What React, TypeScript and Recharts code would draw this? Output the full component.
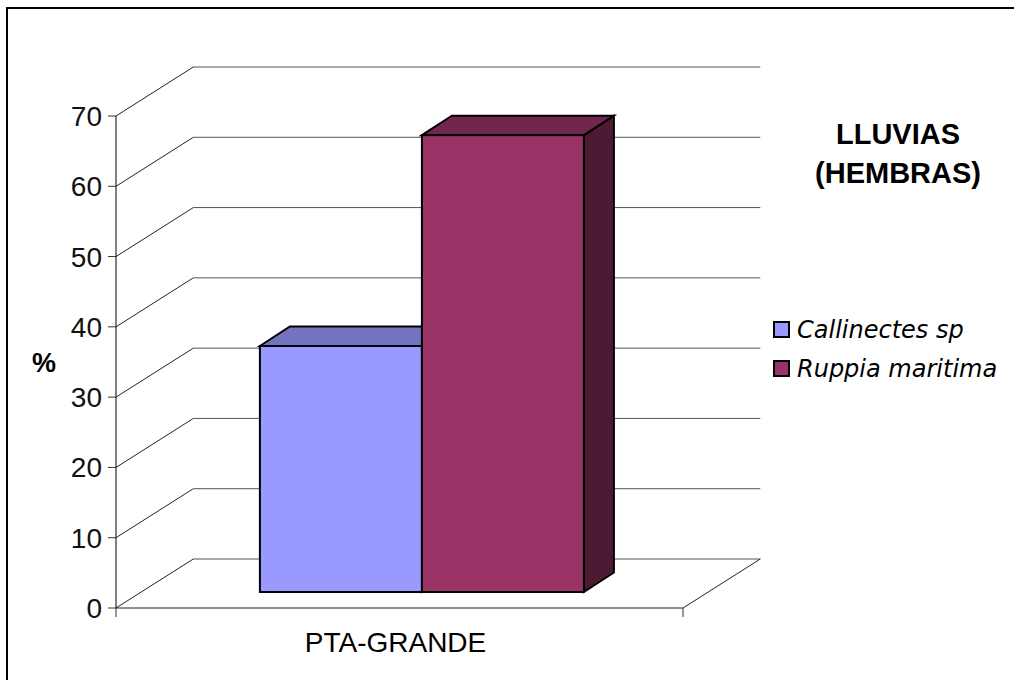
import React from 'react';
import { BarChart, Bar, XAxis, YAxis, CartesianGrid, Legend, ReferenceLine } from 'recharts';

// ---- data ----
const stations = ['PTA-GRANDE'];
const callinectesPct = [35];
const ruppiaPct = [65];
const yTicks = [0, 10, 20, 30, 40, 50, 60, 70];
const seriesKeys = ['callinectes', 'ruppia'];
const seriesNames = ['Callinectes sp', 'Ruppia maritima'];
const seriesColors = ['#9999FF', '#993366'];
const titleLines = ['LLUVIAS', '(HEMBRAS)'];
const yAxisTitle = '%';

const data = stations.map((station, i) => ({
  station,
  callinectes: callinectesPct[i],
  ruppia: ruppiaPct[i],
}));

// ---- 3D look ----
// offset from the front plane to the back wall
const WALL_DX = 77.3;
const WALL_DY = -49;
// the bars stand a little way into the floor, and have their own depth
const BAR_FX = 22;
const BAR_FY = -16;
const BAR_DX = 30;
const BAR_DY = -19.5;

const SANS = '"Liberation Sans", Arial, sans-serif';
const LEGEND_FONT = '"DejaVu Sans", sans-serif';

function shade(hex: string, f: number) {
  const n = parseInt(hex.slice(1), 16);
  const r = Math.round(((n >> 16) & 255) * f);
  const g = Math.round(((n >> 8) & 255) * f);
  const b = Math.round((n & 255) * f);
  return `rgb(${r},${g},${b})`;
}

function Box3D(props: any) {
  const { x, y, width, height, color } = props;
  if (x == null || y == null || !width) return null;
  const fx = x + BAR_FX;
  const fy = y + BAR_FY;
  const h = Math.max(0, height);
  const top = [
    [fx, fy],
    [fx + BAR_DX, fy + BAR_DY],
    [fx + width + BAR_DX, fy + BAR_DY],
    [fx + width, fy],
  ];
  const side = [
    [fx + width, fy],
    [fx + width + BAR_DX, fy + BAR_DY],
    [fx + width + BAR_DX, fy + h + BAR_DY],
    [fx + width, fy + h],
  ];
  const pts = (a: number[][]) => a.map((p) => p.join(',')).join(' ');
  return (
    <g stroke="#000" strokeWidth={2} strokeLinejoin="miter">
      <polygon points={pts(side)} fill={shade(color, 0.5)} />
      <polygon points={pts(top)} fill={shade(color, 0.75)} />
      <rect x={fx} y={fy} width={width} height={h} fill={color} />
    </g>
  );
}

// gridline on the left wall and across the back wall
const renderWallLine = (p: any) => {
  const { x1, y1, x2 } = p;
  const by = y1 + WALL_DY;
  return (
    <g key={`wall-${p.index}`}>
      <line x1={x1} y1={y1} x2={x1 + WALL_DX} y2={by} stroke="#222" strokeWidth={1} />
      <line x1={x1 + WALL_DX} y1={by} x2={x2 + WALL_DX} y2={by} stroke="#555" strokeWidth={1} />
    </g>
  );
};

// right edge of the floor and the category boundary marks
const renderFloor = (p: any) => {
  const { x1, y1, x2 } = p;
  return (
    <g>
      <line x1={x2} y1={y1} x2={x2 + WALL_DX} y2={y1 + WALL_DY} stroke="#222" strokeWidth={1} />
      <line x1={x1} y1={y1} x2={x1} y2={y1 + 9} stroke="#333" strokeWidth={1} />
      <line x1={x2} y1={y1} x2={x2} y2={y1 + 9} stroke="#333" strokeWidth={1} />
    </g>
  );
};

const renderLegend = (props: any) => {
  const payload = [...(props.payload || [])].sort(
    (a: any, b: any) => seriesNames.indexOf(a.value) - seriesNames.indexOf(b.value)
  );
  return (
    <svg width={240} height={80} style={{ display: 'block', overflow: 'visible' }}>
      {payload.map((e: any, i: number) => (
        <g key={e.value} transform={`translate(0, ${i * 39})`}>
          <rect x={4} y={12} width={15} height={15} fill={e.color} stroke="#000" strokeWidth={2} />
          <text
            x={27}
            y={28}
            fontFamily={LEGEND_FONT}
            fontStyle="italic"
            fontSize={24}
            fill="#000"
          >
            {e.value}
          </text>
        </g>
      ))}
    </svg>
  );
};

export default function App() {
  return (
    <div
      style={{
        position: 'absolute',
        left: 0,
        top: 0,
        width: 1014,
        height: 680,
        overflow: 'hidden',
        background: '#fff',
      }}
    >
      <div
        style={{
          position: 'absolute',
          left: 6,
          top: 7,
          width: 1040,
          height: 720,
          border: '2px solid #000',
        }}
      />
      <div style={{ position: 'absolute', left: 0, top: 0 }}>
        <BarChart
          width={1014}
          height={680}
          data={data}
          margin={{ top: 116, right: 331, bottom: 32, left: 0 }}
          barCategoryGap="21.5%"
          barGap={0}
        >
          <CartesianGrid vertical={false} horizontal={renderWallLine} />
          <XAxis
            dataKey="station"
            height={40}
            tickSize={0}
            tickMargin={24}
            tickLine={false}
            axisLine={{ stroke: '#222', strokeWidth: 1 }}
            tick={{ fontFamily: SANS, fontSize: 28, fill: '#000', dx: -4 }}
          />
          <YAxis
            type="number"
            domain={[0, 70]}
            ticks={yTicks}
            interval={0}
            width={116}
            tickSize={8}
            tickMargin={6}
            axisLine={{ stroke: '#000', strokeWidth: 1 }}
            tickLine={{ stroke: '#333', strokeWidth: 1 }}
            tick={{ fontFamily: SANS, fontSize: 28, fill: '#111' }}
            label={{
              value: yAxisTitle,
              position: 'insideLeft',
              offset: 32,
              fontFamily: SANS,
              fontWeight: 'bold',
              fontSize: 27,
              fill: '#000',
            }}
          />
          <ReferenceLine y={0} shape={renderFloor} />
          {seriesKeys.map((k, i) => (
            <Bar
              key={k}
              dataKey={k}
              name={seriesNames[i]}
              fill={seriesColors[i]}
              isAnimationActive={false}
              shape={(p: any) => <Box3D {...p} color={seriesColors[i]} />}
            />
          ))}
          <Legend
            layout="vertical"
            align="center"
            verticalAlign="middle"
            content={renderLegend}
            wrapperStyle={{ left: 770, top: 310, width: 240, height: 80 }}
          />
        </BarChart>
      </div>
      <div
        style={{
          position: 'absolute',
          left: 778,
          top: 115,
          width: 240,
          textAlign: 'center',
          fontFamily: SANS,
          fontWeight: 'bold',
          fontSize: 29,
          lineHeight: '39px',
          color: '#000',
        }}
      >
        {titleLines.map((t) => (
          <div key={t}>{t}</div>
        ))}
      </div>
    </div>
  );
}
